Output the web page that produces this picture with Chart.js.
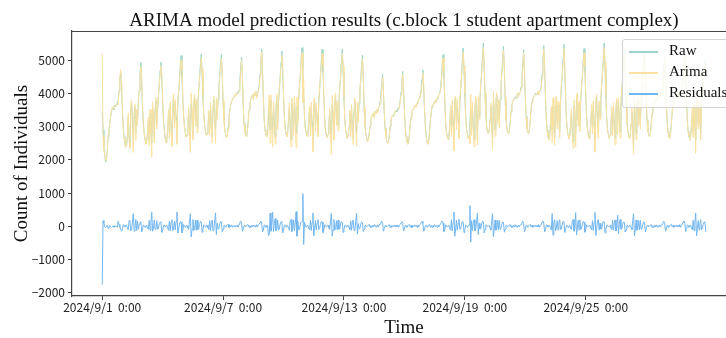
<!DOCTYPE html>
<html>
<head>
<meta charset="utf-8">
<script src="https://cdn.jsdelivr.net/npm/chart.js@4.4.1/dist/chart.umd.min.js"></script>
<style>
  html, body { margin: 0; padding: 0; background: #fff; overflow: hidden; }
  #wrap { position: relative; width: 726px; height: 338px; overflow: hidden; }
  #legend {
    position: absolute; left: 622px; top: 39px; width: 120px; height: 67px;
    background: rgba(255,255,255,0.8); border: 1px solid #d4d4d4; border-radius: 3px;
    font-family: "Liberation Serif", serif; font-size: 15px; color: #111;
  }
  .item { position: absolute; left: 0; height: 20px; }
  .swatch { position: absolute; left: 6px; top: 10px; width: 29px; height: 1.5px; }
  .label { position: absolute; left: 46px; top: 1px; white-space: nowrap; }
</style>
</head>
<body>
<div id="wrap">
  <canvas id="chart" width="760" height="338"></canvas>
  <div id="legend"></div>
</div>
<script>
// hourly counts, 2024/9/1 0:00 .. 2024/9/30 23:00 (one row per day)
const raw = [
  3430, 2900, 2400, 2100, 1930, 2000, 2300, 2700, 2900, 3100, 3300, 3450, 3550, 3600, 3500, 3650, 3600, 3700, 3650, 3800, 4100, 4450, 4640, 4300,
  3500, 3000, 2700, 2500, 2390, 2450, 2700, 3300, 2700, 2500, 3500, 3700, 3100, 2600, 3300, 3600, 2800, 3400, 3200, 3700, 4100, 4600, 4940, 4300,
  3600, 3100, 2800, 2600, 2480, 2550, 2800, 3200, 2600, 3400, 2900, 2500, 3600, 3300, 2700, 3500, 3800, 3100, 3500, 3900, 4300, 4700, 4940, 4400,
  3700, 3200, 2900, 2650, 2530, 2600, 2900, 3400, 2800, 3600, 3000, 2600, 3500, 3900, 3100, 3700, 3300, 2900, 3600, 4000, 4400, 4850, 5140, 4500,
  3800, 3300, 3000, 2800, 2690, 2750, 3000, 3500, 2900, 2600, 3700, 3400, 2800, 3600, 3900, 3200, 3700, 3000, 3700, 4100, 4500, 4900, 5190, 4550,
  3850, 3350, 3050, 2850, 2740, 2800, 3000, 3400, 2900, 3600, 3100, 2700, 3500, 3800, 3200, 2900, 3600, 3300, 3800, 4200, 4550, 4950, 5190, 4500,
  3700, 3200, 2900, 2750, 2690, 2750, 3000, 3300, 3500, 3650, 3750, 3800, 3850, 3900, 3950, 4000, 3950, 4050, 4000, 4100, 4400, 4800, 5090, 4400,
  3600, 3100, 2850, 2720, 2700, 2900, 3200, 3500, 3700, 3850, 3900, 3950, 3850, 4000, 3950, 4050, 3900, 4000, 4100, 4250, 4600, 5000, 5340, 4600,
  3800, 3200, 2900, 2750, 2700, 2800, 3300, 3700, 2900, 3800, 3300, 2800, 3600, 3200, 2700, 3500, 3900, 3100, 3700, 4100, 4500, 4950, 5280, 4600,
  3900, 3300, 2950, 2780, 2700, 2850, 3200, 3600, 3000, 2600, 3700, 3400, 2900, 3800, 3300, 2800, 3600, 3200, 3800, 4200, 4600, 5050, 5380, 4700,
  3900, 3300, 2950, 2800, 2720, 2800, 3100, 3500, 2900, 3600, 3100, 2650, 3500, 3800, 3000, 3600, 3300, 2900, 3700, 4100, 4550, 5000, 5330, 4650,
  3850, 3250, 2900, 2750, 2680, 2780, 3050, 3450, 2850, 2550, 3650, 3350, 2800, 3700, 3950, 3200, 3650, 3050, 3750, 4150, 4550, 5000, 5340, 4650,
  3800, 3200, 2900, 2750, 2650, 2750, 3000, 3400, 2850, 3550, 3050, 2650, 3450, 3750, 3100, 2800, 3500, 3200, 3700, 4100, 4450, 4850, 5150, 4400,
  3500, 3050, 2800, 2650, 2550, 2600, 2800, 3000, 3200, 3300, 3350, 3400, 3300, 3450, 3400, 3500, 3450, 3550, 3600, 3750, 4000, 4300, 4580, 4000,
  3400, 2950, 2700, 2550, 2500, 2550, 2750, 3000, 3200, 3300, 3350, 3300, 3400, 3450, 3500, 3450, 3550, 3500, 3600, 3800, 4050, 4350, 4660, 4050,
  3450, 3000, 2700, 2550, 2480, 2550, 2800, 3100, 3300, 3450, 3500, 3550, 3600, 3650, 3600, 3700, 3750, 3800, 3850, 3950, 4150, 4450, 4710, 4100,
  3450, 3000, 2700, 2550, 2480, 2600, 2900, 3200, 3450, 3600, 3650, 3700, 3750, 3800, 3750, 3850, 3900, 3950, 4000, 4150, 4450, 4850, 5170, 4500,
  3800, 3200, 2850, 2700, 2620, 2700, 3050, 3500, 2900, 3650, 3150, 2700, 3550, 3850, 3100, 3700, 3250, 2850, 3700, 4150, 4550, 5000, 5370, 4650,
  3900, 3300, 2950, 2750, 2650, 2750, 3100, 3500, 2900, 3600, 3050, 2600, 3500, 3850, 3150, 2850, 3650, 3300, 3800, 4250, 4650, 5100, 5520, 4750,
  3950, 3350, 3000, 2850, 2800, 2900, 3200, 3600, 3000, 2700, 3750, 3400, 2900, 3700, 3950, 3250, 3700, 3150, 3800, 4200, 4600, 5050, 5420, 4700,
  3800, 3250, 2950, 2820, 2800, 2900, 3150, 3450, 3650, 3750, 3800, 3850, 3900, 3850, 3950, 4000, 3950, 4000, 4050, 4200, 4500, 4900, 5320, 4600,
  3850, 3300, 2950, 2820, 2800, 2950, 3250, 3550, 3750, 3850, 3900, 3950, 4000, 3950, 4000, 4050, 4000, 4050, 4100, 4250, 4600, 5000, 5440, 4700,
  3900, 3250, 2900, 2700, 2600, 2700, 3050, 3500, 2900, 3600, 3100, 2650, 3550, 3850, 3100, 3650, 3250, 2850, 3750, 4200, 4600, 5050, 5480, 4700,
  3850, 3250, 2900, 2750, 2650, 2750, 3050, 3450, 2850, 2550, 3650, 3350, 2800, 3700, 3950, 3200, 3650, 3050, 3750, 4150, 4550, 5000, 5350, 4650,
  3900, 3300, 2950, 2750, 2650, 2750, 3100, 3550, 2950, 3650, 3150, 2650, 3550, 3900, 3150, 2850, 3650, 3300, 3800, 4250, 4650, 5100, 5520, 4750,
  3850, 3250, 2900, 2750, 2650, 2750, 3050, 3500, 2900, 3600, 3100, 2650, 3500, 3800, 3100, 3650, 3250, 2850, 3700, 4100, 4500, 4950, 5300, 4600,
  3800, 3200, 2900, 2750, 2650, 2750, 3050, 3450, 2850, 2550, 3600, 3300, 2800, 3650, 3900, 3200, 3650, 3100, 3750, 4100, 4500, 4950, 5300, 4600,
  3750, 3200, 2900, 2750, 2700, 2800, 3100, 3400, 3600, 3700, 3750, 3800, 3850, 3800, 3900, 3950, 3900, 3950, 4000, 4150, 4450, 4800, 5100, 4450,
  3700, 3150, 2850, 2700, 2650, 2800, 3100, 3450, 3650, 3750, 3800, 3850, 3900, 3850, 3950, 4000, 3950, 4000, 4050, 4200, 4500, 4850, 5200, 4500,
  3800, 3200, 2850, 2700, 2600, 2700, 3050, 3450, 2850, 3550, 3050, 2600, 3500, 3800, 3100, 3600, 3200, 2800, 3650, 4000, 4400, 4750, 5000, 4400
];

const arima = [
  5190, 2730, 2300, 2120, 1970, 2010, 2270, 2760, 2930, 3080, 3320, 3490, 3570, 3590, 3530, 3630, 3620, 3690, 3680, 3650, 4040, 4470, 4720, 4450,
  3600, 2950, 2670, 2520, 2370, 2420, 2750, 3410, 2530, 2350, 3640, 3800, 2980, 2220, 3450, 3680, 2590, 3530, 3040, 3790, 4040, 4490, 4800, 4470,
  3690, 3060, 2780, 2630, 2470, 2510, 2860, 3290, 2420, 3520, 2800, 2080, 3750, 3360, 2510, 3600, 3890, 2930, 3590, 3960, 4220, 4570, 4830, 4590,
  3810, 3170, 2860, 2670, 2510, 2570, 2970, 3520, 2640, 3740, 2880, 2400, 3630, 3990, 2950, 3810, 3150, 2470, 3810, 4080, 4330, 4710, 5010, 4700,
  3920, 3250, 2980, 2840, 2680, 2730, 3050, 3600, 2750, 2220, 4020, 3500, 2600, 3730, 3980, 3020, 3820, 2810, 3800, 4170, 4440, 4750, 5070, 4730,
  3950, 3310, 3020, 2880, 2720, 2770, 3040, 3500, 2730, 3730, 2990, 2510, 3640, 3920, 3040, 2500, 3850, 3210, 3880, 4260, 4480, 4810, 5060, 4670,
  3790, 3170, 2880, 2780, 2670, 2710, 2940, 3340, 3470, 3670, 3710, 3830, 3830, 3910, 3920, 4020, 3940, 4010, 4030, 4040, 4280, 4640, 5000, 4550,
  3680, 3080, 2820, 2740, 2690, 2850, 3160, 3530, 3680, 3890, 3870, 3970, 3810, 4010, 3930, 4080, 3850, 4020, 4070, 4180, 4490, 4850, 5240, 4770,
  3910, 3160, 2880, 2780, 2680, 2770, 3580, 3950, 2500, 3950, 3200, 2380, 3760, 3120, 2470, 3640, 3990, 2910, 3820, 4180, 4430, 4820, 5140, 4800,
  4020, 3270, 2910, 2800, 2690, 2830, 3270, 3720, 2830, 2390, 3860, 3480, 2710, 3930, 3200, 2360, 3900, 3050, 3910, 4290, 4540, 4930, 5230, 3720,
  4450, 3180, 2910, 2830, 2700, 2770, 3160, 3610, 2720, 3730, 2980, 2250, 3790, 3870, 2830, 3710, 3210, 2700, 3800, 4170, 4490, 4860, 5200, 4840,
  3950, 3210, 2870, 2770, 2670, 2750, 3100, 3550, 2690, 2160, 3950, 3460, 2600, 3820, 4020, 3030, 3760, 2870, 3840, 4230, 4480, 4860, 5220, 4830,
  3890, 3170, 2880, 2780, 2630, 2720, 3040, 3500, 2690, 3670, 2940, 2460, 3580, 3860, 2950, 2410, 3740, 3120, 3770, 4160, 4380, 4720, 5040, 4560,
  3580, 3020, 2780, 2670, 2540, 2560, 2740, 3030, 3180, 3340, 3320, 3420, 3250, 3460, 3380, 3530, 3410, 3570, 3570, 3680, 3890, 4150, 4490, 4150,
  3470, 2930, 2670, 2570, 2490, 2520, 2700, 3040, 3170, 3330, 3330, 3310, 3360, 3470, 3470, 3470, 3510, 3530, 3580, 3740, 3950, 4210, 4580, 4190,
  3530, 2970, 2680, 2580, 2460, 2510, 2750, 3130, 3270, 3490, 3480, 3570, 3560, 3660, 3570, 3730, 3710, 3820, 3820, 3890, 4040, 4300, 4620, 4250,
  3530, 2980, 2670, 2570, 2470, 2560, 2840, 3230, 3430, 3640, 3620, 3720, 3700, 3810, 3730, 3880, 3860, 3970, 3970, 4080, 4330, 4690, 5070, 4660,
  3920, 3160, 2820, 2720, 2610, 2670, 3110, 3620, 2700, 3790, 3030, 2270, 3850, 3930, 2920, 3820, 3160, 2640, 3800, 4230, 4490, 4860, 5240, 4840,
  4010, 3260, 2930, 2780, 2630, 2720, 2480, 3980, 2730, 3730, 2940, 2400, 3640, 3920, 2990, 2450, 3900, 3210, 3880, 4320, 4580, 4950, 5380, 4950,
  4050, 3310, 2970, 2870, 2790, 2880, 3250, 3710, 2830, 2320, 4060, 3520, 2710, 3820, 4030, 3080, 3810, 2970, 3890, 4270, 4540, 4920, 5300, 4880,
  3880, 3230, 2920, 2840, 2790, 2860, 3100, 3480, 3630, 3790, 3770, 3870, 3850, 3860, 3930, 4030, 3910, 4020, 4020, 4140, 4390, 4750, 5230, 4760,
  3940, 3270, 2930, 2850, 2780, 2910, 3190, 3570, 3720, 3880, 3880, 3960, 3960, 3970, 3970, 4070, 3950, 4080, 4080, 4180, 4480, 4840, 5340, 4870,
  4010, 3210, 2870, 2720, 2580, 2670, 3110, 3610, 2520, 3870, 2980, 2450, 3690, 3920, 2930, 3760, 3160, 2650, 3850, 4280, 4540, 4910, 5350, 4890,
  3950, 3220, 2880, 2780, 2640, 2720, 3100, 3550, 2690, 2350, 3800, 3410, 2390, 3960, 4020, 3020, 3760, 2860, 3840, 4220, 4480, 4860, 5230, 4830,
  4010, 3260, 2930, 2770, 2630, 2720, 3160, 3660, 2780, 3780, 3040, 2230, 3830, 3970, 2990, 2650, 3770, 3210, 3880, 4330, 4580, 4950, 5380, 4950,
  3950, 3220, 2870, 2770, 2640, 2730, 3100, 3600, 2720, 3720, 2990, 2460, 3640, 3860, 2770, 3870, 3170, 2650, 3790, 4170, 4440, 4820, 5180, 4770,
  3900, 3160, 2880, 2780, 2630, 2720, 3090, 3550, 2680, 2170, 3890, 3410, 2610, 3770, 3960, 3030, 3760, 2920, 3840, 4160, 4440, 4820, 5190, 4770,
  3830, 3180, 2870, 2770, 2690, 2760, 3050, 3430, 3580, 3740, 3720, 3820, 3810, 3810, 3880, 3980, 3860, 3970, 3970, 4090, 4340, 4650, 5010, 4600,
  3790, 3120, 2830, 2730, 2630, 2760, 3040, 3470, 3620, 3780, 3780, 3860, 3860, 3870, 3920, 4020, 3900, 4030, 4030, 4130, 4380, 4690, 5100, 4660,
  3900, 3160, 2830, 2730, 2580, 2670, 3110, 3560, 2670, 3680, 2940, 2200, 3790, 3870, 2930, 3710, 3110, 2600, 3750, 4070, 4340, 4620, 4880, 4570
];

const residuals = [
  -1760, 170, 100, -20, -40, -10, 30, -60, -30, 20, -20, -40, -20, 10, -30, 20, -20, 10, -30, 150, 60, -20, -80, -150,
  -100, 50, 30, -20, 20, 30, -50, -110, 170, 150, -140, -100, 120, 380, -150, -80, 210, -130, 160, -90, 60, 110, 140, -170,
  -90, 40, 20, -30, 10, 40, -60, -90, 180, -120, 100, 420, -150, -60, 190, -100, -90, 170, -90, -60, 80, 130, 110, -190,
  -110, 30, 40, -20, 20, 30, -70, -120, 160, -140, 120, 200, -130, -90, 150, -110, 150, 430, -210, -80, 70, 140, 130, -200,
  -120, 50, 20, -40, 10, 20, -50, -100, 150, 380, -320, -100, 200, -130, -80, 180, -120, 190, -100, -70, 60, 150, 120, -180,
  -100, 40, 30, -30, 20, 30, -40, -100, 170, -130, 110, 190, -140, -120, 160, 400, -250, 90, -80, -60, 70, 140, 130, -170,
  -90, 30, 20, -30, 20, 40, 60, -40, 30, -20, 40, -30, 20, -10, 30, -20, 10, 40, -30, 60, 120, 160, 90, -150,
  -80, 20, 30, -20, 10, 50, 40, -30, 20, -40, 30, -20, 40, -10, 20, -30, 50, -20, 30, 70, 110, 150, 100, -170,
  -110, 40, 20, -30, 20, 30, -280, -250, 400, -150, 100, 420, -160, 80, 230, -140, -90, 190, -120, -80, 70, 130, 140, -200,
  -120, 30, 40, -20, 10, 20, -70, -120, 170, 210, -160, -80, 190, -130, 100, 440, -300, 150, -110, -90, 60, 120, 150, 980,
  -550, 120, 40, -30, 20, 30, -60, -110, 180, -130, 120, 400, -290, -70, 170, -110, 90, 200, -100, -70, 60, 140, 130, -190,
  -100, 40, 30, -20, 10, 30, -50, -100, 160, 390, -300, -110, 200, -120, -70, 170, -110, 180, -90, -80, 70, 140, 120, -180,
  -90, 30, 20, -30, 20, 30, -40, -100, 160, -120, 110, 190, -130, -110, 150, 390, -240, 80, -70, -60, 70, 130, 110, -160,
  -80, 30, 20, -20, 10, 40, 60, -30, 20, -40, 30, -20, 50, -10, 20, -30, 40, -20, 30, 70, 110, 150, 90, -150,
  -70, 20, 30, -20, 10, 30, 50, -40, 30, -30, 20, -10, 40, -20, 30, -20, 40, -30, 20, 60, 100, 140, 80, -140,
  -80, 30, 20, -30, 20, 40, 50, -30, 30, -40, 20, -20, 40, -10, 30, -30, 40, -20, 30, 60, 110, 150, 90, -150,
  -80, 20, 30, -20, 10, 40, 60, -30, 20, -40, 30, -20, 50, -10, 20, -30, 40, -20, 30, 70, 120, 160, 100, -160,
  -120, 40, 30, -20, 10, 30, -60, -120, 200, -140, 120, 430, -300, -80, 180, -120, 90, 210, -100, -80, 60, 140, 130, -190,
  -110, 40, 20, -30, 20, 30, 620, -480, 170, -130, 110, 200, -140, -70, 160, 400, -250, 90, -80, -70, 70, 150, 140, -200,
  -100, 40, 30, -20, 10, 20, -50, -110, 170, 380, -310, -120, 190, -120, -80, 170, -110, 180, -90, -70, 60, 130, 120, -180,
  -80, 20, 30, -20, 10, 40, 50, -30, 20, -40, 30, -20, 50, -10, 20, -30, 40, -20, 30, 60, 110, 150, 90, -160,
  -90, 30, 20, -30, 20, 40, 60, -20, 30, -30, 20, -10, 40, -20, 30, -20, 50, -30, 20, 70, 120, 160, 100, -170,
  -110, 40, 30, -20, 20, 30, -60, -110, 380, -270, 120, 200, -140, -70, 170, -110, 90, 200, -100, -80, 60, 140, 130, -190,
  -100, 30, 20, -30, 10, 30, -50, -100, 160, 200, -150, -60, 410, -260, -70, 180, -110, 190, -90, -70, 70, 140, 120, -180,
  -110, 40, 20, -20, 20, 30, -60, -110, 170, -130, 110, 420, -280, -70, 160, 200, -120, 90, -80, -80, 70, 150, 140, -200,
  -100, 30, 30, -20, 10, 20, -50, -100, 180, -120, 110, 190, -140, -60, 330, -220, 80, 200, -90, -70, 60, 130, 120, -170,
  -100, 40, 20, -30, 20, 30, -40, -100, 170, 380, -290, -110, 190, -120, -60, 170, -110, 180, -90, -60, 60, 130, 110, -170,
  -80, 20, 30, -20, 10, 40, 50, -30, 20, -40, 30, -20, 40, -10, 20, -30, 40, -20, 30, 60, 110, 150, 90, -150,
  -90, 30, 20, -30, 20, 40, 60, -20, 30, -30, 20, -10, 40, -20, 30, -20, 50, -30, 20, 70, 120, 160, 100, -160,
  -100, 40, 20, -30, 20, 30, -60, -110, 180, -130, 110, 400, -290, -70, 170, -110, 90, 200, -100, -70, 60, 130, 120, -170
];

const seriesNames = ['Raw', 'Arima', 'Residuals'];
const seriesColors = ['#9ed5cb', '#fbe2a0', '#72b6ef'];

const xTickHours = [0, 144, 288, 432, 576];
const xTickLabels = ['2024/9/1  0:00', '2024/9/7  0:00', '2024/9/13  0:00', '2024/9/19  0:00', '2024/9/25  0:00'];
const yTicks = [-2000, -1000, 0, 1000, 2000, 3000, 4000, 5000];

const titleText = 'ARIMA model prediction results (c.block 1 student apartment complex)';
const xTitle = 'Time';
const yTitle = 'Count of Individuals';

const toPoints = arr => arr.map((v, i) => ({ x: i, y: v }));

const tickFont = { family: '"Noto Sans CJK SC", "DejaVu Sans", sans-serif', size: 12 };

// title, axis titles and the top spine
const decor = {
  id: 'decor',
  afterDraw(chart) {
    const { ctx, chartArea } = chart;
    ctx.save();
    ctx.strokeStyle = '#444';
    ctx.lineWidth = 1;
    ctx.beginPath();
    ctx.moveTo(chartArea.left, chartArea.top + 0.5);
    ctx.lineTo(chartArea.right, chartArea.top + 0.5);
    ctx.stroke();

    ctx.fillStyle = '#111';
    ctx.textAlign = 'center';
    ctx.textBaseline = 'alphabetic';
    ctx.font = '19px "Liberation Serif", serif';
    ctx.fillText(titleText, (chartArea.left + chartArea.right) / 2, 26);
    ctx.fillText(xTitle, (chartArea.left + chartArea.right) / 2, 333);

    ctx.translate(27, (chartArea.top + chartArea.bottom) / 2);
    ctx.rotate(-Math.PI / 2);
    ctx.fillText(yTitle, 0, 0);
    ctx.restore();
  }
};

const chart = new Chart(document.getElementById('chart'), {
  type: 'line',
  data: {
    datasets: [
      { label: seriesNames[0], data: toPoints(raw), borderColor: seriesColors[0], order: 3 },
      { label: seriesNames[1], data: toPoints(arima), borderColor: seriesColors[1], order: 2 },
      { label: seriesNames[2], data: toPoints(residuals), borderColor: seriesColors[2], order: 1 }
    ]
  },
  options: {
    responsive: false,
    animation: false,
    parsing: false,
    elements: {
      point: { radius: 0 },
      line: { borderWidth: 1, tension: 0 }
    },
    layout: { padding: { top: 31, right: 24, left: 0, bottom: 0 } },
    plugins: {
      legend: { display: false },
      tooltip: { enabled: false }
    },
    scales: {
      x: {
        type: 'linear',
        min: -36,
        max: 755,
        afterBuildTicks: s => { s.ticks = xTickHours.map(v => ({ value: v })); },
        afterFit: s => { s.height = 42; },
        ticks: {
          autoSkip: false,
          maxRotation: 0,
          padding: 0,
          color: '#222',
          font: tickFont,
          callback: v => xTickLabels[xTickHours.indexOf(v)]
        },
        grid: { drawOnChartArea: false, drawTicks: true, tickLength: 4, color: '#444' },
        border: { color: '#444', width: 1.2 }
      },
      y: {
        min: -2100,
        max: 5880,
        afterBuildTicks: s => { s.ticks = yTicks.map(v => ({ value: v })); },
        afterFit: s => { s.width = 72; },
        ticks: {
          padding: 3,
          color: '#222',
          font: tickFont,
          callback: v => (v < 0 ? '\u2212' + Math.abs(v) : String(v))
        },
        grid: { drawOnChartArea: false, drawTicks: true, tickLength: 4, color: '#444' },
        border: { color: '#444', width: 1.2 }
      }
    }
  },
  plugins: [decor]
});

// legend box in the top right corner of the plot
const legend = document.getElementById('legend');
seriesNames.forEach((name, i) => {
  const item = document.createElement('div');
  item.className = 'item';
  item.style.top = (1 + i * 21) + 'px';
  const sw = document.createElement('div');
  sw.className = 'swatch';
  sw.style.background = seriesColors[i];
  const lb = document.createElement('div');
  lb.className = 'label';
  lb.textContent = name;
  item.appendChild(sw);
  item.appendChild(lb);
  legend.appendChild(item);
});
</script>
</body>
</html>
